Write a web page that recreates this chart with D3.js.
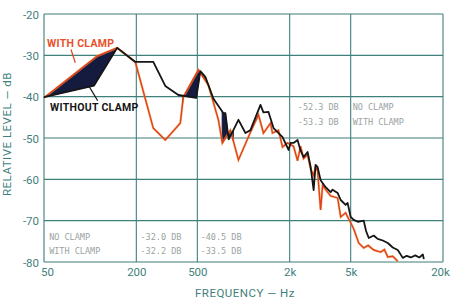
<!DOCTYPE html>
<html>
<head>
<meta charset="utf-8">
<script src="https://cdn.jsdelivr.net/npm/d3@7"></script>
<style>
  body { margin: 0; background: #fff; }
  svg { display: block; }
</style>
</head>
<body>
<div id="chart"></div>
<script>
// tick values
var freqTicks = [50, 200, 500, 2000, 5000, 20000];
var freqLabels = ["50", "200", "500", "2k", "5k", "20k"];
var dbTicks = [-20, -30, -40, -50, -60, -70, -80];

// response without clamp (black) : [Hz, dB]
var withoutClamp = [
  [50, -40.1], [106, -37.3], [150, -28.2], [197, -31.6], [258, -31.6], [309, -37.4],
  [376, -39.6], [492, -40.3], [523, -33.8], [564, -35.2], [637, -40.5], [740, -44.0],
  [762, -44.0], [800, -50.3], [859, -48.1], [927, -45.6], [1030, -48.8], [1110, -48.1],
  [1290, -42.0], [1349, -43.8], [1455, -43.7], [1570, -47.6], [1797, -49.8], [1967, -52.9],
  [2027, -51.2], [2120, -51.2], [2252, -50.5], [2355, -53.0], [2465, -54.6], [2618, -53.4],
  [2741, -57.0], [2866, -62.6], [2952, -56.5], [3041, -57.0], [3184, -60.2], [3280, -60.9],
  [3434, -61.9], [3698, -63.1], [3810, -62.5], [4111, -63.3], [4304, -65.0], [4635, -66.2],
  [4775, -65.7], [5000, -69.1], [5235, -69.8], [5600, -70.3], [6080, -70.0], [6300, -72.5],
  [6560, -74.2], [7070, -73.6], [7500, -74.4], [8100, -74.8], [8730, -75.4], [9400, -76.5],
  [10140, -77.1], [10940, -79.0], [11600, -78.5], [12330, -78.9], [13200, -78.4], [14000, -78.9],
  [14780, -78.2], [15000, -79.3]
];

// response with clamp (red) : [Hz, dB]
var withClamp = [
  [50, -40.3], [111, -30.2], [150, -28.2], [197, -31.6], [258, -47.6], [309, -50.5],
  [387, -46.4], [405, -40.1], [508, -33.5], [590, -37.2], [686, -45.6], [728, -51.2],
  [822, -48.1], [927, -55.3], [1110, -48.6], [1252, -44.4], [1349, -48.8], [1500, -46.4],
  [1545, -48.8], [1690, -48.1], [1797, -52.2], [1936, -51.2], [2120, -52.0], [2252, -55.5],
  [2355, -52.0], [2465, -55.0], [2618, -54.0], [2741, -57.5], [2866, -59.0], [2952, -57.0],
  [3041, -58.0], [3184, -67.4], [3280, -61.5], [3434, -62.5], [3698, -64.0], [4111, -64.5],
  [4304, -69.1], [4635, -68.1], [5000, -70.5], [5235, -72.0], [5640, -75.4], [6080, -76.6],
  [6500, -76.0], [7070, -77.1], [7850, -77.6], [8300, -77.0], [8730, -78.8], [9400, -78.6],
  [10140, -79.8]
];

// frequency spans where the gap between the curves is shaded
var fillRanges = [[50, 150], [400, 560], [725, 860]];

// level readings printed in the grid cells
var noteLeft = ["NO CLAMP", "WITH CLAMP"];
var note200 = ["-32.0 DB", "-32.2 DB"];
var note500 = ["-40.5 DB", "-33.5 DB"];
var note2k = ["-52.3 DB", "-53.3 DB"];
var note5k = ["NO CLAMP", "WITH CLAMP"];

var W = 461, H = 304;
var margin = {top: 14, right: 18, bottom: 42, left: 44};
var width = W - margin.left - margin.right,
    height = H - margin.top - margin.bottom;

var teal = "#3f7f7c";

var svg = d3.select("#chart").append("svg")
    .attr("width", W).attr("height", H)
  .append("g")
    .attr("transform", "translate(" + margin.left + "," + margin.top + ")");

var x = d3.scaleLog().domain([50, 20000]).range([0, width]);
var y = d3.scaleLinear().domain([-80, -20]).range([height, 0]);

// grid
svg.append("g").selectAll("line.h")
  .data(dbTicks).enter().append("line")
    .attr("x1", 0).attr("x2", width)
    .attr("y1", function(d) { return y(d); }).attr("y2", function(d) { return y(d); })
    .style("stroke", teal).style("stroke-width", 1.1);
svg.append("g").selectAll("line.v")
  .data(freqTicks).enter().append("line")
    .attr("x1", function(d) { return x(d); }).attr("x2", function(d) { return x(d); })
    .attr("y1", 0).attr("y2", height)
    .style("stroke", teal).style("stroke-width", 1.1);

// axes (labels only, the grid draws the lines)
var yAxis = svg.append("g")
  .call(d3.axisLeft(y).tickValues(dbTicks).tickSize(0).tickPadding(5)
    .tickFormat(function(d) { return "-" + Math.abs(d); }));
yAxis.select(".domain").remove();
yAxis.selectAll("text").style("font-family", "Roboto, sans-serif")
  .style("font-size", "11.5px").style("fill", teal).attr("dy", "0.35em");

var xAxis = svg.append("g")
  .attr("transform", "translate(0," + height + ")")
  .call(d3.axisBottom(x).tickValues(freqTicks).tickSize(0).tickPadding(6)
    .tickFormat(function(d, i) { return freqLabels[i]; }));
xAxis.select(".domain").remove();
xAxis.selectAll("text").style("font-family", "Roboto, sans-serif")
  .style("font-size", "11.5px").style("fill", teal)
  .attr("dx", function(d) { return d == 50 ? "3px" : (d == 20000 ? "-3px" : 0); });

// axis titles
svg.append("text")
  .attr("transform", "translate(" + (-33) + "," + (height / 2 - 4) + ") rotate(-90)")
  .attr("text-anchor", "middle")
  .style("font-family", "Roboto, sans-serif").style("font-size", "11.5px")
  .style("letter-spacing", "0.5px").style("fill", teal)
  .text("RELATIVE LEVEL — dB");
svg.append("text")
  .attr("x", 201).attr("y", height + 35)
  .attr("text-anchor", "middle")
  .style("font-family", "Roboto, sans-serif").style("font-size", "11.5px")
  .style("letter-spacing", "0.5px").style("fill", teal)
  .text("FREQUENCY — Hz");

// shaded gaps between the curves
function interp(data, f) {
  for (var i = 1; i < data.length; i++) {
    if (f <= data[i][0]) {
      var a = data[i - 1], b = data[i];
      var t = (Math.log(f) - Math.log(a[0])) / (Math.log(b[0]) - Math.log(a[0]));
      return a[1] + t * (b[1] - a[1]);
    }
  }
  return data[data.length - 1][1];
}
var area = d3.area()
  .x(function(d) { return x(d.f); })
  .y0(function(d) { return y(d.lo); })
  .y1(function(d) { return y(d.hi); });
fillRanges.forEach(function(r) {
  var fs = [r[0], r[1]];
  withoutClamp.concat(withClamp).forEach(function(p) {
    if (p[0] > r[0] && p[0] < r[1]) fs.push(p[0]);
  });
  fs.sort(function(a, b) { return a - b; });
  var pts = fs.map(function(f) {
    return {f: f, lo: interp(withoutClamp, f), hi: interp(withClamp, f)};
  });
  svg.append("path").datum(pts)
    .attr("d", area)
    .style("fill", "#151a3f").style("stroke", "#151a3f").style("stroke-width", 0.8);
});

var line = d3.line()
  .x(function(d) { return x(d[0]); })
  .y(function(d) { return y(d[1]); });

svg.append("path").datum(withClamp)
  .attr("d", line)
  .style("fill", "none").style("stroke", "#f0a040").style("stroke-width", 2.4)
  .style("opacity", 0.6);
svg.append("path").datum(withClamp)
  .attr("d", line)
  .style("fill", "none").style("stroke", "#e0401e").style("stroke-width", 1.4);
svg.append("path").datum(withoutClamp)
  .attr("d", line)
  .style("fill", "none").style("stroke", "#161616").style("stroke-width", 1.8)
  .style("stroke-linejoin", "round");

// callouts
svg.append("text").attr("x", 3).attr("y", 33)
  .style("font-family", "Roboto, sans-serif").style("font-weight", "bold")
  .style("font-size", "10.5px").style("letter-spacing", "0.3px").style("fill", "#e8502a")
  .text("WITH CLAMP");
svg.append("line")
  .attr("x1", x(75)).attr("y1", y(-28.6)).attr("x2", x(80)).attr("y2", y(-31.8))
  .style("stroke", "#e0401e").style("stroke-width", 1.2);
svg.append("text").attr("x", 6).attr("y", 97)
  .style("font-family", "Roboto, sans-serif").style("font-weight", "bold")
  .style("font-size", "10.5px").style("letter-spacing", "0.3px").style("fill", "#161616")
  .text("WITHOUT CLAMP");
svg.append("line")
  .attr("x1", x(112)).attr("y1", y(-41.0)).attr("x2", x(98)).attr("y2", y(-37.4))
  .style("stroke", "#161616").style("stroke-width", 1.2);

// printed readings
function note(lines, f, db) {
  svg.append("g").selectAll("text")
    .data(lines).enter().append("text")
      .attr("x", x(f)).attr("y", function(d, i) { return y(db) + i * 14.5; })
      .style("font-family", "'DejaVu Sans Mono', monospace")
      .style("font-size", "8.5px").style("fill", "#9aa3a3")
      .text(function(d) { return d; });
}
note(noteLeft, 54, -74.6);
note(note200, 213, -74.6);
note(note500, 525, -74.6);
note(note2k, 2260, -43.3);
note(note5k, 5150, -43.3);
</script>
</body>
</html>
